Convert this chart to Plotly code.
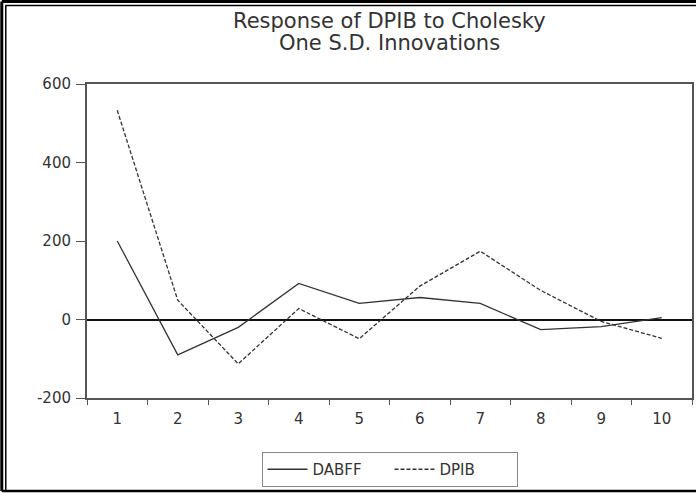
import plotly.graph_objects as go

periods = ["1", "2", "3", "4", "5", "6", "7", "8", "9", "10"]
dabff = [200, -90, -20, 92, 41, 56, 41, -26, -18, 5]
dpib = [533, 49, -113, 28, -49, 85, 174, 74, -5, -48]
y_ticks = [-200, 0, 200, 400, 600]
y_tick_labels = ["-200", "0", "200", "400", "600"]
title_lines = ["Response of DPIB to Cholesky", "One S.D. Innovations"]

FONT = "DejaVu Sans"
W, H = 698, 493
L, R, T, B = 87, 4, 84, 95
ph = H - T - B
pw = W - L - R


def px_x(x):
    return (x - L) / pw


def px_y(y):
    return (H - B - y) / ph


fig = go.Figure()
fig.add_trace(go.Scatter(x=periods, y=dabff, mode="lines", name="DABFF",
                         line=dict(color="#333333", width=1.3)))
fig.add_trace(go.Scatter(x=periods, y=dpib, mode="lines", name="DPIB",
                         line=dict(color="#333333", width=1.3, dash="4px,2px")))

fig.update_layout(
    width=W, height=H,
    margin=dict(l=L, r=R, t=T, b=B),
    paper_bgcolor="white", plot_bgcolor="white",
    font=dict(family=FONT, color="#333333", size=15),
    showlegend=True,
    legend=dict(orientation="h", x=0.5, xanchor="center",
                y=px_y(452), yanchor="top",
                bordercolor="#888888", borderwidth=1,
                font=dict(size=15, color="#333333"),
                entrywidth=72, itemwidth=40, tracegroupgap=0),
    xaxis=dict(type="category", tickson="boundaries", ticks="outside",
               range=[-0.5, 9.5],
               ticklen=5, tickwidth=1, tickcolor="#555555",
               showline=True, linecolor="#555555", linewidth=2, mirror=True,
               showgrid=False, zeroline=False,
               tickfont=dict(size=15, color="#333333"),
               ticklabelstandoff=6),
    yaxis=dict(range=[-200, 600], tickvals=y_ticks, ticktext=y_tick_labels,
               ticks="outside",
               ticklen=9, tickwidth=1, tickcolor="#555555",
               showline=True, linecolor="#555555", linewidth=2, mirror=True,
               showgrid=False, zeroline=True, zerolinecolor="#111111",
               zerolinewidth=1.5,
               tickfont=dict(size=15, color="#333333"),
               ticklabelstandoff=2),
)

for txt, yy in zip(title_lines, [21, 43]):
    fig.add_annotation(text=txt, xref="paper", yref="paper", x=0.5, y=px_y(yy),
                       xanchor="center", yanchor="middle", showarrow=False,
                       font=dict(family=FONT, size=21, color="#333333"))

# outer frame (double line top/left, single bottom)
frame = dict(xref="paper", yref="paper", layer="above")
fig.add_shape(type="line", x0=px_x(1.5), x1=px_x(W), y0=px_y(1.5), y1=px_y(1.5),
              line=dict(color="black", width=3), **frame)
fig.add_shape(type="line", x0=px_x(5), x1=px_x(W), y0=px_y(5.5), y1=px_y(5.5),
              line=dict(color="black", width=1.5), **frame)
fig.add_shape(type="line", x0=px_x(1.5), x1=px_x(1.5), y0=px_y(1.5), y1=px_y(491),
              line=dict(color="black", width=3), **frame)
fig.add_shape(type="line", x0=px_x(5.5), x1=px_x(5.5), y0=px_y(5.5), y1=px_y(491),
              line=dict(color="black", width=1.5), **frame)
fig.add_shape(type="line", x0=px_x(1.5), x1=px_x(W), y0=px_y(491), y1=px_y(491),
              line=dict(color="black", width=2.5), **frame)

fig.write_html("out.html",
               config={"displayModeBar": False},
               post_script="document.body.style.margin='0px';"
                           "document.body.style.overflow='hidden';")
